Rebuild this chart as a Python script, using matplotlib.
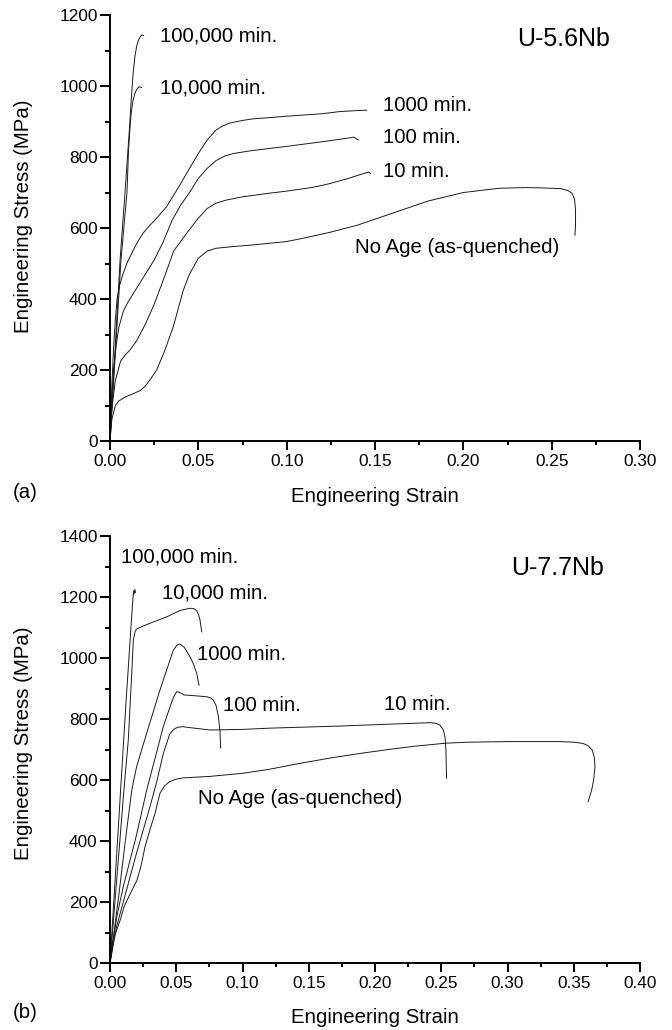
"""Engineering stress-strain curves for aged U-Nb alloys
"""
import matplotlib as mpl
mpl.use('Agg')
import matplotlib.pyplot as plt
from matplotlib.ticker import MultipleLocator

# data, U-5.6Nb (panel a)

A_NOAGE_X = [0, 0.001, 0.003, 0.005, 0.009, 0.013, 0.017, 0.020, 0.023, 0.0264, 0.031,
             0.0358, 0.0415, 0.045, 0.050, 0.055, 0.060, 0.070, 0.080, 0.10, 0.11,
             0.1245, 0.14, 0.16, 0.18, 0.20, 0.22, 0.235, 0.245, 0.255, 0.259, 0.2615,
             0.263, 0.2635, 0.2635, 0.2632]
A_NOAGE_Y = [0, 60, 100, 113, 125, 133, 142, 155, 175, 200, 255, 322, 425, 470, 515, 535,
             543, 548, 552, 562, 572, 588, 608, 642, 676, 700, 712, 714, 713, 711, 706,
             698, 680, 650, 610, 580]
A_10_X = [0, 0.001, 0.003, 0.006, 0.009, 0.0113, 0.015, 0.0198, 0.025, 0.031, 0.036,
          0.0435, 0.05, 0.055, 0.06, 0.066, 0.075, 0.09, 0.10, 0.11, 0.115, 0.12, 0.125,
          0.13, 0.135, 0.14, 0.1465, 0.1475]
A_10_Y = [0, 90, 170, 225, 245, 256, 282, 327, 385, 465, 535, 586, 628, 655, 670, 679,
          688, 698, 704, 711, 715, 720, 726, 733, 740, 748, 758, 753]
A_100_X = [0, 0.001, 0.002, 0.0035, 0.005, 0.0075, 0.01, 0.015, 0.02, 0.025, 0.03, 0.035,
           0.04, 0.045, 0.05, 0.055, 0.06, 0.065, 0.07, 0.08, 0.10, 0.12, 0.13, 0.138,
           0.1405]
A_100_Y = [0, 120, 200, 270, 320, 365, 390, 430, 470, 510, 560, 620, 665, 700, 740, 768,
           790, 803, 810, 818, 830, 843, 850, 856, 848]
A_1000_X = [0, 0.001, 0.002, 0.003, 0.004, 0.0055, 0.007, 0.0095, 0.0124, 0.0155, 0.0188,
            0.022, 0.025, 0.028, 0.032, 0.037, 0.0435, 0.05, 0.055, 0.06, 0.064, 0.068,
            0.075, 0.08, 0.10, 0.12, 0.13, 0.14, 0.1453]
A_1000_Y = [0, 150, 260, 340, 400, 440, 465, 500, 530, 560, 586, 605, 620, 637, 660, 700,
            755, 810, 848, 876, 888, 896, 903, 907, 915, 922, 928, 931, 932]
A_10K_X = [0, 0.0062, 0.0096, 0.0105, 0.0113, 0.012, 0.013, 0.014, 0.015, 0.0165, 0.0179]
A_10K_Y = [0, 510, 700, 820, 880, 925, 958, 978, 990, 998, 996]
A_100K_X = [0, 0.0057, 0.0085, 0.011, 0.012, 0.013, 0.014, 0.015, 0.016, 0.017, 0.018,
            0.019]
A_100K_Y = [0, 510, 700, 880, 960, 1030, 1080, 1110, 1128, 1138, 1144, 1142]

# data, U-7.7Nb (panel b)

B_NOAGE_X = [0, 0.002, 0.005, 0.008, 0.0106, 0.015, 0.0204, 0.0235, 0.0264, 0.030, 0.034,
             0.0377, 0.041, 0.045, 0.050, 0.055, 0.0755, 0.10, 0.12, 0.14, 0.166, 0.19,
             0.21, 0.23, 0.254, 0.27, 0.30, 0.34, 0.35, 0.357, 0.361, 0.364, 0.3655,
             0.366, 0.365, 0.3635, 0.3608]
B_NOAGE_Y = [0, 70, 108, 145, 185, 225, 272, 320, 381, 435, 491, 557, 580, 595, 603, 607,
             612, 622, 635, 652, 672, 688, 700, 711, 721, 724, 726, 726, 724, 720, 712,
             698, 675, 644, 600, 567, 529]
B_10_X = [0, 0.005, 0.01, 0.02, 0.03, 0.035, 0.0403, 0.045, 0.048, 0.051, 0.055, 0.06,
          0.0755, 0.10, 0.12, 0.1736, 0.21, 0.2415, 0.246, 0.249, 0.2515, 0.2528, 0.2535,
          0.254]
B_10_Y = [0, 120, 200, 360, 510, 590, 688, 750, 766, 773, 775, 772, 764, 766, 770, 777,
          783, 788, 786, 780, 765, 742, 700, 606]
B_100_X = [0, 0.005, 0.01, 0.02, 0.0277, 0.035, 0.0402, 0.0453, 0.048, 0.0503, 0.053,
           0.056, 0.065, 0.073, 0.076, 0.078, 0.080, 0.0818, 0.083, 0.0835]
B_100_Y = [0, 150, 250, 420, 567, 688, 775, 840, 872, 890, 886, 879, 876, 873, 869, 862,
           845, 808, 760, 705]
B_1000_X = [0, 0.006, 0.011, 0.0164, 0.0201, 0.0277, 0.0377, 0.0478, 0.0505, 0.0528,
            0.056, 0.0604, 0.063, 0.0654, 0.0672]
B_1000_Y = [0, 200, 380, 567, 644, 754, 895, 1026, 1042, 1046, 1035, 1004, 980, 950, 911]
B_10K_X = [0, 0.0105, 0.0138, 0.0164, 0.0176, 0.019, 0.0201, 0.025, 0.0302, 0.0428,
           0.0528, 0.0604, 0.063, 0.0654, 0.067, 0.0679, 0.0692]
B_10K_Y = [0, 567, 731, 950, 1059, 1088, 1095, 1105, 1114, 1135, 1156, 1163, 1162, 1156,
           1140, 1125, 1086]
B_100K_X = [0, 0.008, 0.012, 0.0155, 0.0172, 0.0178, 0.0182, 0.0188, 0.0192]
B_100K_Y = [0, 567, 850, 1080, 1190, 1220, 1210, 1225, 1215]

A_CURVES = [(A_NOAGE_X, A_NOAGE_Y), (A_10_X, A_10_Y), (A_100_X, A_100_Y),
            (A_1000_X, A_1000_Y), (A_10K_X, A_10K_Y), (A_100K_X, A_100K_Y)]
B_CURVES = [(B_NOAGE_X, B_NOAGE_Y), (B_10_X, B_10_Y), (B_100_X, B_100_Y),
            (B_1000_X, B_1000_Y), (B_10K_X, B_10K_Y), (B_100K_X, B_100K_Y)]

A_LABELS = [("100,000 min.", 0.0283, 1141), ("10,000 min.", 0.0283, 994),
            ("1000 min.", 0.1547, 945), ("100 min.", 0.1547, 856),
            ("10 min.", 0.1547, 758), ("No Age (as-quenched)", 0.1387, 544)]
B_LABELS = [("100,000 min.", 0.0081, 1332), ("10,000 min.", 0.039, 1212),
            ("1000 min.", 0.0654, 1010), ("100 min.", 0.085, 844),
            ("10 min.", 0.2068, 846), ("No Age (as-quenched)", 0.0667, 540)]

# configuration
plt.rcParams['font.family'] = ['Liberation Sans', 'DejaVu Sans']
LINE_COLOR = '#1a1a1a'


def setup_axes(ax, xmax, ymax):
    ax.set_xlim(0, xmax)
    ax.set_ylim(0, ymax)
    for side in ('top', 'right'):
        ax.spines[side].set_visible(False)
    for side in ('left', 'bottom'):
        ax.spines[side].set_linewidth(1.4)
    ax.xaxis.set_major_locator(MultipleLocator(0.05))
    ax.xaxis.set_minor_locator(MultipleLocator(0.025))
    ax.yaxis.set_major_locator(MultipleLocator(200))
    ax.yaxis.set_minor_locator(MultipleLocator(100))
    ax.xaxis.set_major_formatter(plt.FormatStrFormatter('%.2f'))
    ax.tick_params(axis='both', which='both', direction='out', width=1.4,
                   labelsize=12.4)
    ax.tick_params(axis='x', which='major', length=6.5, pad=2.5)
    ax.tick_params(axis='x', which='minor', length=3)
    ax.tick_params(axis='y', which='major', length=7, pad=2)
    ax.tick_params(axis='y', which='minor', length=3.5)
    ax.set_xlabel('Engineering Strain', fontsize=14.7)
    ax.set_ylabel('Engineering Stress (MPa)', fontsize=14.7)
    ax.xaxis.label.set_va('center')
    ax.yaxis.label.set_va('center')


def draw_panel(ax, curves, labels, title, title_pos):
    for xs, ys in curves:
        ax.plot(xs, ys, color=LINE_COLOR, lw=0.7, solid_joinstyle='round')
    for text, x, y in labels:
        ax.text(x, y, text, fontsize=14.7, ha='left', va='center')
    ax.text(title_pos[0], title_pos[1], title, fontsize=18, ha='left', va='center')


fig = plt.figure(figsize=(6.72, 10.30), dpi=100)
ax_a = fig.add_axes([0.1637, 0.5718, 0.7887, 0.4136])
ax_b = fig.add_axes([0.1637, 0.0650, 0.7887, 0.4146])

setup_axes(ax_a, 0.30, 1200)
draw_panel(ax_a, A_CURVES, A_LABELS, 'U-5.6Nb', (0.2304, 1132))
ax_a.xaxis.set_label_coords(0.5, -0.131)
ax_a.yaxis.set_label_coords(-0.164, 0.527)

setup_axes(ax_b, 0.40, 1400)
draw_panel(ax_b, B_CURVES, B_LABELS, 'U-7.7Nb', (0.3026, 1294))
ax_b.xaxis.set_label_coords(0.5, -0.127)
ax_b.yaxis.set_label_coords(-0.164, 0.515)

fig.text(13 / 672, 1 - 493 / 1030, '(a)', fontsize=14.7, ha='left', va='center')
fig.text(13 / 672, 1 - 1013 / 1030, '(b)', fontsize=14.7, ha='left', va='center')

fig.savefig('out.png', dpi=100)
